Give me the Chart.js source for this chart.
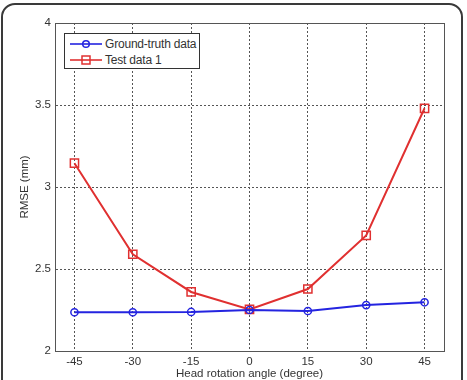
<!DOCTYPE html>
<html>
<head>
<meta charset="utf-8">
<script src="https://cdn.jsdelivr.net/npm/chart.js@4/dist/chart.umd.min.js"></script>
<style>
  body { margin: 0; background: #fff; font-family: "Liberation Sans", Arial, sans-serif; }
  #wrap { position: relative; width: 467px; height: 380px; overflow: hidden; }
  #frame { position: absolute; left: 1px; top: 3px; width: 458px; height: 420px;
           border: 2px solid #3a3a3a; border-radius: 14px; pointer-events: none; }
  #legend { position: absolute; left: 64px; top: 33px; width: 134px; height: 32px;
            border: 1px solid #333; background: #fff; font-size: 12px; color: #333;
            padding-top: 2px; box-sizing: content-box; white-space: nowrap; }
  #legend .row { height: 16px; line-height: 16px; display: flex; align-items: center; }
  #legend svg { flex-shrink: 0; margin: 0 3px 0 5px; }
  #legend span { flex-shrink: 0; letter-spacing: -0.2px; }
</style>
</head>
<body>
<div id="wrap">
  <canvas id="rmseChart" width="467" height="380"></canvas>
  <div id="legend"></div>
  <div id="frame"></div>
</div>
<script>
// Data
const angles = [-45, -30, -15, 0, 15, 30, 45];
const groundTruth = [2.236, 2.236, 2.238, 2.25, 2.244, 2.28, 2.297];
const testData1 = [3.145, 2.59, 2.36, 2.254, 2.378, 2.705, 3.48];
const yTicks = [2, 2.5, 3, 3.5, 4];
const seriesNames = ["Ground-truth data", "Test data 1"];

const blue = "#2424e0";
const red = "#e03030";
const gridColor = "#555";
const fontSize = 11.5;

// Legend like the Matlab one
const legend = document.getElementById("legend");
const symbols = [
    '<circle cx="16" cy="5" r="3.3" fill="none" stroke="' + blue + '" stroke-width="1.5"/>',
    '<rect x="12" y="1" width="8" height="8" fill="none" stroke="' + red + '" stroke-width="1.5"/>'
];
const colors = [blue, red];
seriesNames.forEach(function (name, i) {
    const row = document.createElement("div");
    row.className = "row";
    row.innerHTML = '<svg width="32" height="10"><line x1="0" y1="5" x2="32" y2="5" stroke="' +
        colors[i] + '" stroke-width="1.6"/>' + symbols[i] + '</svg><span>' + name + '</span>';
    legend.appendChild(row);
});

// box round the plot area
const plotBox = {
    id: "plotBox",
    afterDraw(chart) {
        const a = chart.chartArea;
        const ctx = chart.ctx;
        ctx.save();
        ctx.strokeStyle = gridColor;
        ctx.lineWidth = 1;
        ctx.strokeRect(a.left + 0.5, a.top + 0.5, a.right - a.left, a.bottom - a.top);
        ctx.restore();
    }
};

const ctx = document.getElementById("rmseChart");

new Chart(ctx, {
    type: "line",
    data: {
        datasets: [{
            label: seriesNames[0],
            data: angles.map((a, i) => ({ x: a, y: groundTruth[i] })),
            borderColor: blue,
            backgroundColor: "rgba(0,0,0,0)",
            borderWidth: 2,
            pointStyle: "circle",
            pointRadius: 3.6,
            pointBorderWidth: 1.5,
            tension: 0
        }, {
            label: seriesNames[1],
            data: angles.map((a, i) => ({ x: a, y: testData1[i] })),
            borderColor: red,
            backgroundColor: "rgba(0,0,0,0)",
            borderWidth: 2,
            pointStyle: "rect",
            pointRadius: 5.8,
            pointBorderWidth: 1.5,
            tension: 0
        }]
    },
    options: {
        responsive: false,
        animation: false,
        layout: { padding: { left: 0, right: 23, top: 23, bottom: 0 } },
        plugins: {
            legend: { display: false },
            tooltip: { enabled: false }
        },
        scales: {
            x: {
                type: "linear",
                min: -50,
                max: 50,
                afterBuildTicks: axis => { axis.ticks = angles.map(v => ({ value: v })); },
                afterFit: axis => { axis.height = 29; },
                grid: { color: gridColor, drawTicks: false },
                border: { color: gridColor, dash: [2, 2] },
                ticks: {
                    padding: 4,
                    color: "#333",
                    font: { family: "Liberation Sans", size: fontSize },
                    callback: v => String(v)
                },
                title: {
                    display: true,
                    text: "Head rotation angle (degree)",
                    color: "#333",
                    font: { family: "Liberation Sans", size: fontSize, lineHeight: 1 },
                    padding: { top: 0, bottom: 0 }
                }
            },
            y: {
                min: 2,
                max: 4,
                afterBuildTicks: axis => { axis.ticks = yTicks.map(v => ({ value: v })); },
                afterFit: axis => { axis.width = 55; },
                grid: { color: gridColor, drawTicks: false },
                border: { color: gridColor, dash: [2, 2] },
                ticks: {
                    padding: 4,
                    color: "#333",
                    font: { family: "Liberation Sans", size: fontSize },
                    callback: v => String(v)
                },
                title: {
                    display: true,
                    text: "RMSE (mm)",
                    color: "#333",
                    font: { family: "Liberation Sans", size: fontSize, lineHeight: 1 },
                    padding: { top: 19, bottom: 0 }
                }
            }
        }
    },
    plugins: [plotBox]
});
</script>
</body>
</html>
